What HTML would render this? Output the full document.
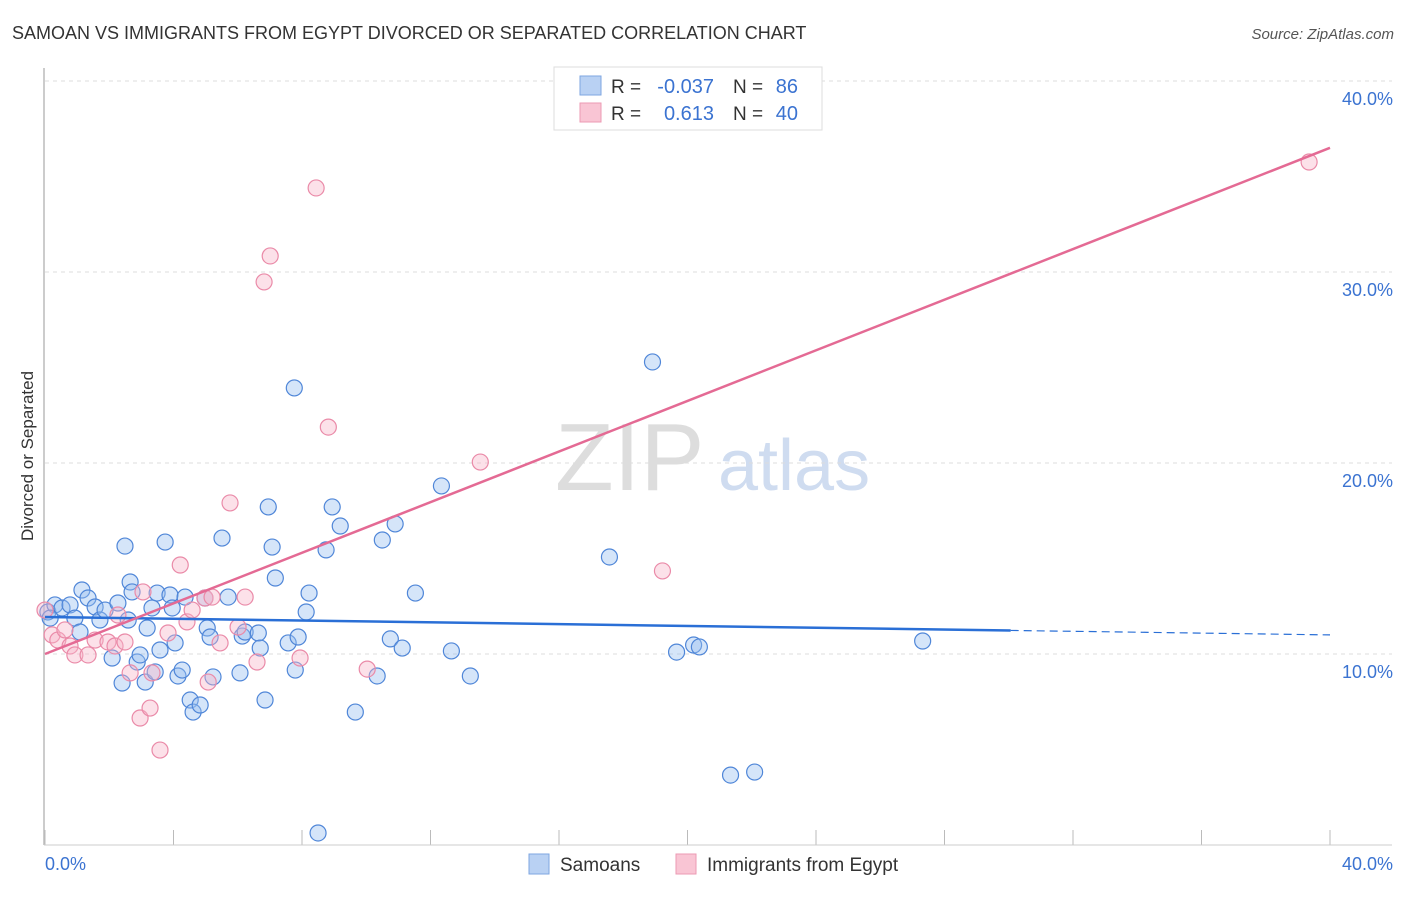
<!DOCTYPE html>
<html><head><meta charset="utf-8"><style>
body{margin:0;background:#fff;font-family:"Liberation Sans",sans-serif;}
svg text{font-family:"Liberation Sans",sans-serif;}
</style></head><body>
<svg id="chart" width="1406" height="892" xmlns="http://www.w3.org/2000/svg">
<text x="12" y="39" font-size="18" fill="#333">SAMOAN VS IMMIGRANTS FROM EGYPT DIVORCED OR SEPARATED CORRELATION CHART</text>
<text x="1394" y="39" font-size="15" fill="#555" text-anchor="end" font-style="italic">Source: ZipAtlas.com</text>
<g>
<text x="555" y="490" font-size="96" fill="#ddd" font-family="Liberation Serif">ZIP</text>
<text x="718" y="490" font-size="72" fill="#cfdcf0">atlas</text>
</g>
<g id="grid"></g>
<line x1="44" y1="68" x2="44" y2="845" stroke="#bbb" stroke-width="1.5"/>
<line x1="44" y1="845" x2="1392" y2="845" stroke="#ccc" stroke-width="1"/>
<text transform="translate(33,456) rotate(-90)" font-size="17" fill="#333" text-anchor="middle">Divorced or Separated</text>
<text x="45" y="870" font-size="18" fill="#3b73d1">0.0%</text>
<text x="1393" y="870" font-size="18" fill="#3b73d1" text-anchor="end">40.0%</text>
<g id="points"></g>
<g id="lines"></g>
<g>
<rect x="554" y="67" width="268" height="63" fill="#fff" stroke="#ddd"/>
<rect x="580" y="76" width="21" height="19" fill="#b9d1f3" stroke="#7ea6e0"/>
<rect x="580" y="103" width="21" height="19" fill="#f9c5d4" stroke="#ec9ab3"/>
<text x="611" y="93" font-size="19" fill="#333">R =</text>
<text x="714" y="93" font-size="20" fill="#3b73d1" text-anchor="end">-0.037</text>
<text x="733" y="93" font-size="19" fill="#333">N =</text>
<text x="798" y="93" font-size="20" fill="#3b73d1" text-anchor="end">86</text>
<text x="611" y="120" font-size="19" fill="#333">R =</text>
<text x="714" y="120" font-size="20" fill="#3b73d1" text-anchor="end">0.613</text>
<text x="733" y="120" font-size="19" fill="#333">N =</text>
<text x="798" y="120" font-size="20" fill="#3b73d1" text-anchor="end">40</text>
</g>
<g>
<rect x="529" y="854" width="20" height="20" fill="#b9d1f3" stroke="#7ea6e0"/>
<text x="560" y="871" font-size="19" fill="#333">Samoans</text>
</g>
<g>
<rect x="676" y="854" width="20" height="20" fill="#f9c5d4" stroke="#ec9ab3"/>
<text x="707" y="871" font-size="19" fill="#333">Immigrants from Egypt</text>
</g>
</svg>
<script>
const yTicks=[10,20,30,40];
const yTickLabels=["10.0%","20.0%","30.0%","40.0%"];
const xTickVals=[0,4,8,12,16,20,24,28,32,36,40];
const blueX=[0.09,0.31,0.53,0.78,0.16,0.93,1.15,1.34,1.56,1.71,1.09,1.87,2.09,2.27,2.4,2.49,2.65,2.71,2.59,2.87,2.96,3.12,3.18,3.33,3.43,3.49,3.58,3.74,3.89,3.96,4.05,4.14,4.27,4.36,4.52,4.61,4.83,4.98,5.05,5.14,5.23,5.51,5.7,6.07,6.14,6.23,6.64,6.7,6.85,6.95,7.07,7.17,7.57,7.76,7.79,7.88,8.13,8.22,8.5,8.75,8.94,9.19,9.66,10.34,10.5,10.75,10.9,11.12,11.53,12.34,12.65,13.24,17.57,18.91,19.66,20.19,20.37,21.34,22.09,27.32];
const blueY=[12.2,12.57,12.41,12.57,11.88,11.88,13.35,12.93,12.46,11.78,11.15,12.3,9.79,12.67,8.48,15.65,13.77,13.25,11.78,9.58,9.95,8.53,11.36,12.41,9.06,13.19,10.21,15.86,13.09,12.41,10.58,8.85,9.16,12.98,7.59,6.96,7.33,12.93,11.36,10.89,8.8,16.07,12.98,9.01,10.94,11.15,11.1,10.31,7.59,17.7,15.6,13.98,10.58,23.93,9.16,10.89,12.2,13.19,0.63,15.45,17.7,16.7,6.96,8.85,15.97,10.79,16.81,10.31,13.19,18.8,10.16,8.85,15.08,25.29,10.1,10.47,10.37,3.66,3.82,10.68];
const pinkX=[0,0.22,0.4,0.62,0.78,0.93,1.34,1.56,1.96,2.18,2.27,2.49,2.65,2.96,3.05,3.27,3.33,3.58,3.83,4.21,4.42,4.58,4.98,5.08,5.2,5.45,5.76,6.01,6.23,6.6,6.82,7.01,7.94,8.44,8.82,10.03,13.55,19.22,39.35];
const pinkY=[12.3,11.0,10.73,11.26,10.42,9.95,9.95,10.73,10.63,10.42,12.04,10.63,9.01,6.65,13.25,7.17,9.01,4.97,11.1,14.66,11.68,12.3,12.93,8.53,12.98,10.58,17.91,11.41,12.98,9.58,29.48,30.84,9.79,34.4,21.88,9.21,20.05,14.35,35.76];
const blueTrend=[11.94,11.0];
const blueSolidEnd=30.06;
const pinkTrend=[10.0,36.5];
const NS="http://www.w3.org/2000/svg";
const xs=v=>45+v*(1285/40);
const ys=v=>845-v*19.1;
function mk(tag,attrs,parent){const e=document.createElementNS(NS,tag);for(const k in attrs)e.setAttribute(k,attrs[k]);parent.appendChild(e);return e;}
const grid=document.getElementById('grid');
yTicks.forEach((t,i)=>{
 const l=mk('line',{x1:45,x2:1392,y1:ys(t),y2:ys(t),stroke:'#ddd','stroke-dasharray':'4,4'},grid);
 
 
 const tx=mk('text',{x:1393,y:ys(t)+24,'font-size':18,fill:'#3b73d1','text-anchor':'end'},grid);
 tx.textContent=yTickLabels[i];
 
 
});
xTickVals.forEach(t=>{
 const l=mk('line',{x1:xs(t),x2:xs(t),y1:830,y2:845,stroke:'#bbb'},grid);
 
 
});
const pts=document.getElementById('points');
blueX.forEach((x,i)=>{
 const c=mk('circle',{cx:xs(x),cy:ys(blueY[i]),r:8,fill:'rgba(150,190,240,0.4)',stroke:'#4f86d8','stroke-width':1.2},pts);
 
 
});
pinkX.forEach((x,i)=>{
 const c=mk('circle',{cx:xs(x),cy:ys(pinkY[i]),r:8,fill:'rgba(248,180,200,0.4)',stroke:'#ea8aa8','stroke-width':1.2},pts);
 
 
});
const ln=document.getElementById('lines');
const by=x=>blueTrend[0]+(blueTrend[1]-blueTrend[0])*x/40;
const b1=mk('line',{x1:xs(0),y1:ys(blueTrend[0]),x2:xs(blueSolidEnd),y2:ys(by(blueSolidEnd)),stroke:'#2a6fd6','stroke-width':2.5},ln);


const b2=mk('line',{x1:xs(blueSolidEnd),y1:ys(by(blueSolidEnd)),x2:xs(40),y2:ys(blueTrend[1]),stroke:'#2a6fd6','stroke-width':1.2,'stroke-dasharray':'8,5'},ln);


const p1=mk('line',{x1:xs(0),y1:ys(pinkTrend[0]),x2:xs(40),y2:ys(pinkTrend[1]),stroke:'#e46a94','stroke-width':2.5},ln);


</script>
</body></html>
